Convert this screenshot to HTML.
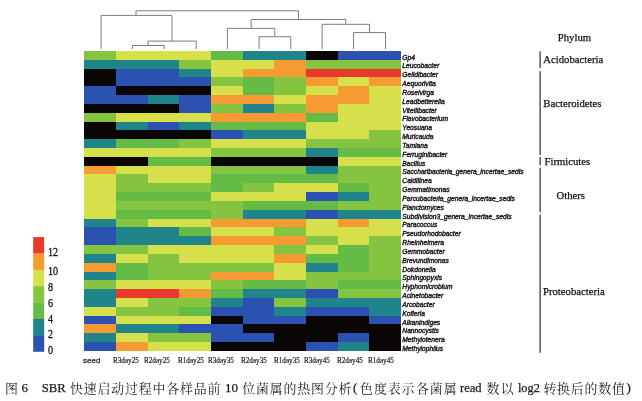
<!DOCTYPE html><html><head><meta charset="utf-8"><title>Heatmap</title><style>
html,body{margin:0;padding:0;background:#fff}body{width:642px;height:401px;position:relative;overflow:hidden;font-family:"Liberation Sans",sans-serif}
.g{position:absolute;left:402.3px;font:italic 6.7px/8.79px "Liberation Sans",sans-serif;color:#1a1a1a;white-space:nowrap;-webkit-text-stroke:0.4px #1a1a1a}
.p{position:absolute;font:10.7px/12px "Liberation Serif",serif;color:#111;white-space:nowrap;-webkit-text-stroke:0.25px #111}
.x{position:absolute;font:8.3px/9px "Liberation Serif",serif;color:#1a1a1a;white-space:nowrap;top:356.3px;transform:scaleX(0.86);transform-origin:0 0;-webkit-text-stroke:0.2px #1a1a1a}
.l{position:absolute;left:47.6px;font:12px/12px "Liberation Serif",serif;color:#111;-webkit-text-stroke:0.3px #111;transform:scaleX(0.84);transform-origin:0 0}
</style></head><body>
<svg width="642" height="401" viewBox="0 0 642 401" style="position:absolute;left:0;top:0">
<rect width="642" height="401" fill="#fff"/>
<g shape-rendering="crispEdges">
<rect x="84.4" y="51" width="31.94" height="9.12" fill="#84c441"/>
<rect x="116.04" y="51" width="95.22" height="9.12" fill="#d6e04a"/>
<rect x="210.96" y="51" width="31.94" height="9.12" fill="#64bb46"/>
<rect x="242.6" y="51" width="63.58" height="9.12" fill="#1f858a"/>
<rect x="305.88" y="51" width="31.94" height="9.12" fill="#0a0606"/>
<rect x="337.52" y="51" width="63.58" height="9.12" fill="#2b51b1"/>
<rect x="84.4" y="59.82" width="95.22" height="9.12" fill="#1f858a"/>
<rect x="179.32" y="59.82" width="31.94" height="9.12" fill="#84c441"/>
<rect x="210.96" y="59.82" width="63.58" height="9.12" fill="#d6e04a"/>
<rect x="274.24" y="59.82" width="31.94" height="9.12" fill="#f59b31"/>
<rect x="305.88" y="59.82" width="95.22" height="9.12" fill="#84c441"/>
<rect x="84.4" y="68.64" width="31.94" height="9.12" fill="#0a0606"/>
<rect x="116.04" y="68.64" width="63.58" height="9.12" fill="#2b51b1"/>
<rect x="179.32" y="68.64" width="31.94" height="9.12" fill="#1f858a"/>
<rect x="210.96" y="68.64" width="31.94" height="9.12" fill="#d6e04a"/>
<rect x="242.6" y="68.64" width="63.58" height="9.12" fill="#f59b31"/>
<rect x="305.88" y="68.64" width="95.22" height="9.12" fill="#e8392b"/>
<rect x="84.4" y="77.46" width="31.94" height="9.12" fill="#0a0606"/>
<rect x="116.04" y="77.46" width="95.22" height="9.12" fill="#2b51b1"/>
<rect x="210.96" y="77.46" width="31.94" height="9.12" fill="#84c441"/>
<rect x="242.6" y="77.46" width="31.94" height="9.12" fill="#64bb46"/>
<rect x="274.24" y="77.46" width="31.94" height="9.12" fill="#84c441"/>
<rect x="305.88" y="77.46" width="31.94" height="9.12" fill="#f59b31"/>
<rect x="337.52" y="77.46" width="31.94" height="9.12" fill="#d6e04a"/>
<rect x="369.16" y="77.46" width="31.94" height="9.12" fill="#f59b31"/>
<rect x="84.4" y="86.28" width="31.94" height="9.12" fill="#2b51b1"/>
<rect x="116.04" y="86.28" width="95.22" height="9.12" fill="#0a0606"/>
<rect x="210.96" y="86.28" width="31.94" height="9.12" fill="#d6e04a"/>
<rect x="242.6" y="86.28" width="31.94" height="9.12" fill="#64bb46"/>
<rect x="274.24" y="86.28" width="31.94" height="9.12" fill="#84c441"/>
<rect x="305.88" y="86.28" width="31.94" height="9.12" fill="#d6e04a"/>
<rect x="337.52" y="86.28" width="31.94" height="9.12" fill="#f59b31"/>
<rect x="369.16" y="86.28" width="31.94" height="9.12" fill="#d6e04a"/>
<rect x="84.4" y="95.1" width="63.58" height="9.12" fill="#2b51b1"/>
<rect x="147.68" y="95.1" width="31.94" height="9.12" fill="#1f858a"/>
<rect x="179.32" y="95.1" width="31.94" height="9.12" fill="#2b51b1"/>
<rect x="210.96" y="95.1" width="63.58" height="9.12" fill="#f59b31"/>
<rect x="274.24" y="95.1" width="31.94" height="9.12" fill="#d6e04a"/>
<rect x="305.88" y="95.1" width="63.58" height="9.12" fill="#f59b31"/>
<rect x="369.16" y="95.1" width="31.94" height="9.12" fill="#d6e04a"/>
<rect x="84.4" y="103.92" width="95.22" height="9.12" fill="#0a0606"/>
<rect x="179.32" y="103.92" width="31.94" height="9.12" fill="#2b51b1"/>
<rect x="210.96" y="103.92" width="31.94" height="9.12" fill="#84c441"/>
<rect x="242.6" y="103.92" width="31.94" height="9.12" fill="#1f858a"/>
<rect x="274.24" y="103.92" width="31.94" height="9.12" fill="#84c441"/>
<rect x="305.88" y="103.92" width="31.94" height="9.12" fill="#f59b31"/>
<rect x="337.52" y="103.92" width="63.58" height="9.12" fill="#d6e04a"/>
<rect x="84.4" y="112.74" width="31.94" height="9.12" fill="#84c441"/>
<rect x="116.04" y="112.74" width="95.22" height="9.12" fill="#d6e04a"/>
<rect x="210.96" y="112.74" width="95.22" height="9.12" fill="#f59b31"/>
<rect x="305.88" y="112.74" width="31.94" height="9.12" fill="#64bb46"/>
<rect x="337.52" y="112.74" width="63.58" height="9.12" fill="#d6e04a"/>
<rect x="84.4" y="121.56" width="31.94" height="9.12" fill="#0a0606"/>
<rect x="116.04" y="121.56" width="31.94" height="9.12" fill="#1f858a"/>
<rect x="147.68" y="121.56" width="31.94" height="9.12" fill="#2b51b1"/>
<rect x="179.32" y="121.56" width="31.94" height="9.12" fill="#1f858a"/>
<rect x="210.96" y="121.56" width="95.22" height="9.12" fill="#64bb46"/>
<rect x="305.88" y="121.56" width="95.22" height="9.12" fill="#d6e04a"/>
<rect x="84.4" y="130.38" width="126.86" height="9.12" fill="#0a0606"/>
<rect x="210.96" y="130.38" width="31.94" height="9.12" fill="#2b51b1"/>
<rect x="242.6" y="130.38" width="63.58" height="9.12" fill="#1f858a"/>
<rect x="305.88" y="130.38" width="63.58" height="9.12" fill="#d6e04a"/>
<rect x="369.16" y="130.38" width="31.94" height="9.12" fill="#84c441"/>
<rect x="84.4" y="139.2" width="31.94" height="9.12" fill="#1f858a"/>
<rect x="116.04" y="139.2" width="63.58" height="9.12" fill="#64bb46"/>
<rect x="179.32" y="139.2" width="31.94" height="9.12" fill="#84c441"/>
<rect x="210.96" y="139.2" width="95.22" height="9.12" fill="#d6e04a"/>
<rect x="305.88" y="139.2" width="95.22" height="9.12" fill="#84c441"/>
<rect x="84.4" y="148.02" width="126.86" height="9.12" fill="#d6e04a"/>
<rect x="210.96" y="148.02" width="95.22" height="9.12" fill="#84c441"/>
<rect x="305.88" y="148.02" width="31.94" height="9.12" fill="#1f858a"/>
<rect x="337.52" y="148.02" width="63.58" height="9.12" fill="#64bb46"/>
<rect x="84.4" y="156.84" width="63.58" height="9.12" fill="#0a0606"/>
<rect x="147.68" y="156.84" width="63.58" height="9.12" fill="#64bb46"/>
<rect x="210.96" y="156.84" width="126.86" height="9.12" fill="#0a0606"/>
<rect x="337.52" y="156.84" width="63.58" height="9.12" fill="#d6e04a"/>
<rect x="84.4" y="165.66" width="31.94" height="9.12" fill="#f59b31"/>
<rect x="116.04" y="165.66" width="95.22" height="9.12" fill="#d6e04a"/>
<rect x="210.96" y="165.66" width="95.22" height="9.12" fill="#84c441"/>
<rect x="305.88" y="165.66" width="31.94" height="9.12" fill="#1f858a"/>
<rect x="337.52" y="165.66" width="63.58" height="9.12" fill="#84c441"/>
<rect x="84.4" y="174.48" width="31.94" height="9.12" fill="#d6e04a"/>
<rect x="116.04" y="174.48" width="31.94" height="9.12" fill="#84c441"/>
<rect x="147.68" y="174.48" width="63.58" height="9.12" fill="#d6e04a"/>
<rect x="210.96" y="174.48" width="126.86" height="9.12" fill="#64bb46"/>
<rect x="337.52" y="174.48" width="63.58" height="9.12" fill="#84c441"/>
<rect x="84.4" y="183.3" width="31.94" height="9.12" fill="#d6e04a"/>
<rect x="116.04" y="183.3" width="95.22" height="9.12" fill="#84c441"/>
<rect x="210.96" y="183.3" width="31.94" height="9.12" fill="#64bb46"/>
<rect x="242.6" y="183.3" width="31.94" height="9.12" fill="#84c441"/>
<rect x="274.24" y="183.3" width="63.58" height="9.12" fill="#d6e04a"/>
<rect x="337.52" y="183.3" width="31.94" height="9.12" fill="#64bb46"/>
<rect x="369.16" y="183.3" width="31.94" height="9.12" fill="#84c441"/>
<rect x="84.4" y="192.12" width="31.94" height="9.12" fill="#d6e04a"/>
<rect x="116.04" y="192.12" width="95.22" height="9.12" fill="#64bb46"/>
<rect x="210.96" y="192.12" width="95.22" height="9.12" fill="#d6e04a"/>
<rect x="305.88" y="192.12" width="31.94" height="9.12" fill="#2b51b1"/>
<rect x="337.52" y="192.12" width="31.94" height="9.12" fill="#1f858a"/>
<rect x="369.16" y="192.12" width="31.94" height="9.12" fill="#84c441"/>
<rect x="84.4" y="200.94" width="31.94" height="9.12" fill="#d6e04a"/>
<rect x="116.04" y="200.94" width="126.86" height="9.12" fill="#84c441"/>
<rect x="242.6" y="200.94" width="95.22" height="9.12" fill="#64bb46"/>
<rect x="337.52" y="200.94" width="63.58" height="9.12" fill="#84c441"/>
<rect x="84.4" y="209.76" width="31.94" height="9.12" fill="#d6e04a"/>
<rect x="116.04" y="209.76" width="95.22" height="9.12" fill="#64bb46"/>
<rect x="210.96" y="209.76" width="31.94" height="9.12" fill="#84c441"/>
<rect x="242.6" y="209.76" width="63.58" height="9.12" fill="#1f858a"/>
<rect x="305.88" y="209.76" width="31.94" height="9.12" fill="#2b51b1"/>
<rect x="337.52" y="209.76" width="63.58" height="9.12" fill="#1f858a"/>
<rect x="84.4" y="218.58" width="31.94" height="9.12" fill="#1f858a"/>
<rect x="116.04" y="218.58" width="31.94" height="9.12" fill="#84c441"/>
<rect x="147.68" y="218.58" width="63.58" height="9.12" fill="#d6e04a"/>
<rect x="210.96" y="218.58" width="95.22" height="9.12" fill="#f59b31"/>
<rect x="305.88" y="218.58" width="31.94" height="9.12" fill="#d6e04a"/>
<rect x="337.52" y="218.58" width="31.94" height="9.12" fill="#f59b31"/>
<rect x="369.16" y="218.58" width="31.94" height="9.12" fill="#d6e04a"/>
<rect x="84.4" y="227.4" width="31.94" height="9.12" fill="#2b51b1"/>
<rect x="116.04" y="227.4" width="63.58" height="9.12" fill="#1f858a"/>
<rect x="179.32" y="227.4" width="31.94" height="9.12" fill="#64bb46"/>
<rect x="210.96" y="227.4" width="63.58" height="9.12" fill="#d6e04a"/>
<rect x="274.24" y="227.4" width="31.94" height="9.12" fill="#84c441"/>
<rect x="305.88" y="227.4" width="95.22" height="9.12" fill="#d6e04a"/>
<rect x="84.4" y="236.22" width="31.94" height="9.12" fill="#2b51b1"/>
<rect x="116.04" y="236.22" width="95.22" height="9.12" fill="#1f858a"/>
<rect x="210.96" y="236.22" width="95.22" height="9.12" fill="#f59b31"/>
<rect x="305.88" y="236.22" width="31.94" height="9.12" fill="#84c441"/>
<rect x="337.52" y="236.22" width="31.94" height="9.12" fill="#d6e04a"/>
<rect x="369.16" y="236.22" width="31.94" height="9.12" fill="#84c441"/>
<rect x="84.4" y="245.04" width="63.58" height="9.12" fill="#84c441"/>
<rect x="147.68" y="245.04" width="126.86" height="9.12" fill="#d6e04a"/>
<rect x="274.24" y="245.04" width="31.94" height="9.12" fill="#84c441"/>
<rect x="305.88" y="245.04" width="31.94" height="9.12" fill="#d6e04a"/>
<rect x="337.52" y="245.04" width="31.94" height="9.12" fill="#64bb46"/>
<rect x="369.16" y="245.04" width="31.94" height="9.12" fill="#84c441"/>
<rect x="84.4" y="253.86" width="31.94" height="9.12" fill="#1f858a"/>
<rect x="116.04" y="253.86" width="31.94" height="9.12" fill="#d6e04a"/>
<rect x="147.68" y="253.86" width="31.94" height="9.12" fill="#84c441"/>
<rect x="179.32" y="253.86" width="95.22" height="9.12" fill="#d6e04a"/>
<rect x="274.24" y="253.86" width="31.94" height="9.12" fill="#f59b31"/>
<rect x="305.88" y="253.86" width="63.58" height="9.12" fill="#64bb46"/>
<rect x="369.16" y="253.86" width="31.94" height="9.12" fill="#84c441"/>
<rect x="84.4" y="262.68" width="31.94" height="9.12" fill="#f59b31"/>
<rect x="116.04" y="262.68" width="31.94" height="9.12" fill="#64bb46"/>
<rect x="147.68" y="262.68" width="126.86" height="9.12" fill="#84c441"/>
<rect x="274.24" y="262.68" width="31.94" height="9.12" fill="#d6e04a"/>
<rect x="305.88" y="262.68" width="31.94" height="9.12" fill="#1f858a"/>
<rect x="337.52" y="262.68" width="31.94" height="9.12" fill="#64bb46"/>
<rect x="369.16" y="262.68" width="31.94" height="9.12" fill="#84c441"/>
<rect x="84.4" y="271.5" width="31.94" height="9.12" fill="#1f858a"/>
<rect x="116.04" y="271.5" width="31.94" height="9.12" fill="#64bb46"/>
<rect x="147.68" y="271.5" width="63.58" height="9.12" fill="#84c441"/>
<rect x="210.96" y="271.5" width="63.58" height="9.12" fill="#f59b31"/>
<rect x="274.24" y="271.5" width="31.94" height="9.12" fill="#d6e04a"/>
<rect x="305.88" y="271.5" width="95.22" height="9.12" fill="#84c441"/>
<rect x="84.4" y="280.32" width="31.94" height="9.12" fill="#84c441"/>
<rect x="116.04" y="280.32" width="95.22" height="9.12" fill="#d6e04a"/>
<rect x="210.96" y="280.32" width="31.94" height="9.12" fill="#84c441"/>
<rect x="242.6" y="280.32" width="63.58" height="9.12" fill="#64bb46"/>
<rect x="305.88" y="280.32" width="31.94" height="9.12" fill="#84c441"/>
<rect x="337.52" y="280.32" width="63.58" height="9.12" fill="#64bb46"/>
<rect x="84.4" y="289.14" width="31.94" height="9.12" fill="#1f858a"/>
<rect x="116.04" y="289.14" width="63.58" height="9.12" fill="#e8392b"/>
<rect x="179.32" y="289.14" width="31.94" height="9.12" fill="#f59b31"/>
<rect x="210.96" y="289.14" width="31.94" height="9.12" fill="#64bb46"/>
<rect x="242.6" y="289.14" width="63.58" height="9.12" fill="#1f858a"/>
<rect x="305.88" y="289.14" width="31.94" height="9.12" fill="#2b51b1"/>
<rect x="337.52" y="289.14" width="63.58" height="9.12" fill="#84c441"/>
<rect x="84.4" y="297.96" width="31.94" height="9.12" fill="#1f858a"/>
<rect x="116.04" y="297.96" width="31.94" height="9.12" fill="#d6e04a"/>
<rect x="147.68" y="297.96" width="63.58" height="9.12" fill="#84c441"/>
<rect x="210.96" y="297.96" width="31.94" height="9.12" fill="#1f858a"/>
<rect x="242.6" y="297.96" width="31.94" height="9.12" fill="#2b51b1"/>
<rect x="274.24" y="297.96" width="31.94" height="9.12" fill="#84c441"/>
<rect x="305.88" y="297.96" width="95.22" height="9.12" fill="#1f858a"/>
<rect x="84.4" y="306.78" width="31.94" height="9.12" fill="#d6e04a"/>
<rect x="116.04" y="306.78" width="63.58" height="9.12" fill="#84c441"/>
<rect x="179.32" y="306.78" width="31.94" height="9.12" fill="#64bb46"/>
<rect x="210.96" y="306.78" width="63.58" height="9.12" fill="#2b51b1"/>
<rect x="274.24" y="306.78" width="31.94" height="9.12" fill="#1f858a"/>
<rect x="305.88" y="306.78" width="63.58" height="9.12" fill="#2b51b1"/>
<rect x="369.16" y="306.78" width="31.94" height="9.12" fill="#1f858a"/>
<rect x="84.4" y="315.6" width="31.94" height="9.12" fill="#2b51b1"/>
<rect x="116.04" y="315.6" width="95.22" height="9.12" fill="#d6e04a"/>
<rect x="210.96" y="315.6" width="31.94" height="9.12" fill="#0a0606"/>
<rect x="242.6" y="315.6" width="63.58" height="9.12" fill="#2b51b1"/>
<rect x="305.88" y="315.6" width="63.58" height="9.12" fill="#0a0606"/>
<rect x="369.16" y="315.6" width="31.94" height="9.12" fill="#2b51b1"/>
<rect x="84.4" y="324.42" width="31.94" height="9.12" fill="#f59b31"/>
<rect x="116.04" y="324.42" width="63.58" height="9.12" fill="#1f858a"/>
<rect x="179.32" y="324.42" width="63.58" height="9.12" fill="#2b51b1"/>
<rect x="242.6" y="324.42" width="158.5" height="9.12" fill="#0a0606"/>
<rect x="84.4" y="333.24" width="31.94" height="9.12" fill="#1f858a"/>
<rect x="116.04" y="333.24" width="31.94" height="9.12" fill="#d6e04a"/>
<rect x="147.68" y="333.24" width="63.58" height="9.12" fill="#84c441"/>
<rect x="210.96" y="333.24" width="63.58" height="9.12" fill="#2b51b1"/>
<rect x="274.24" y="333.24" width="63.58" height="9.12" fill="#0a0606"/>
<rect x="337.52" y="333.24" width="31.94" height="9.12" fill="#2b51b1"/>
<rect x="369.16" y="333.24" width="31.94" height="9.12" fill="#0a0606"/>
<rect x="84.4" y="342.06" width="31.94" height="9.12" fill="#2b51b1"/>
<rect x="116.04" y="342.06" width="31.94" height="9.12" fill="#f59b31"/>
<rect x="147.68" y="342.06" width="63.58" height="9.12" fill="#d6e04a"/>
<rect x="210.96" y="342.06" width="95.22" height="9.12" fill="#0a0606"/>
<rect x="305.88" y="342.06" width="31.94" height="9.12" fill="#2b51b1"/>
<rect x="337.52" y="342.06" width="31.94" height="9.12" fill="#1f858a"/>
<rect x="369.16" y="342.06" width="31.94" height="9.12" fill="#0a0606"/>
</g>
<path d="M101.1 49V15.4H172V41.1 M136 15.4V10.8H298.5V19.5 M148.1 41.1H196.2V49 M148.1 41.1V45.5 M132.4 49V45.5H164.3V49 M251.1 28.4V19.5H345.8V24.3 M227.4 49V28.4H274.8V36.7 M259.1 49V36.7H290.8V49 M322.1 49V24.3H369.5V32.6 M353.5 49V32.6H385.5V49" fill="none" stroke="#857979" stroke-width="1"/>
<rect x="539.4" y="51.3" width="1.5" height="16.7" fill="#5e5252"/>
<rect x="539.4" y="71.2" width="1.5" height="83.8" fill="#5e5252"/>
<rect x="539.4" y="157.2" width="1.5" height="8.1" fill="#5e5252"/>
<rect x="539.4" y="167.7" width="1.5" height="44.6" fill="#5e5252"/>
<rect x="539.4" y="214.7" width="1.5" height="138" fill="#5e5252"/>
<rect x="33.2" y="237.1" width="11" height="16.56" fill="#e8392b"/>
<rect x="33.2" y="253.46" width="11" height="16.56" fill="#f59b31"/>
<rect x="33.2" y="269.81" width="11" height="16.56" fill="#d6e04a"/>
<rect x="33.2" y="286.17" width="11" height="16.56" fill="#84c441"/>
<rect x="33.2" y="302.53" width="11" height="16.56" fill="#64bb46"/>
<rect x="33.2" y="318.89" width="11" height="16.56" fill="#1f858a"/>
<rect x="33.2" y="335.24" width="11" height="16.56" fill="#2b51b1"/>
</svg>
<div style="position:absolute;left:0;top:0;width:642px;height:401px;will-change:transform">
<div class="g" style="top:53.6px">Gp4</div>
<div class="g" style="top:62.44px">Leucobacter</div>
<div class="g" style="top:71.27px">Gelidibacter</div>
<div class="g" style="top:80.11px">Aequorivita</div>
<div class="g" style="top:88.94px">Roseivirga</div>
<div class="g" style="top:97.78px">Leadbetterella</div>
<div class="g" style="top:106.61px">Vitellibacter</div>
<div class="g" style="top:115.45px">Flavobacterium</div>
<div class="g" style="top:124.28px">Yeosuana</div>
<div class="g" style="top:133.12px">Muricauda</div>
<div class="g" style="top:141.95px">Tamlana</div>
<div class="g" style="top:150.78px">Ferruginibacter</div>
<div class="g" style="top:159.62px">Bacillus</div>
<div class="g" style="top:168.46px">Saccharibacteria_genera_incertae_sedis</div>
<div class="g" style="top:177.29px">Caldilinea</div>
<div class="g" style="top:186.12px">Gemmatimonas</div>
<div class="g" style="top:194.96px">Parcubacteria_genera_incertae_sedis</div>
<div class="g" style="top:203.8px">Planctomyces</div>
<div class="g" style="top:212.63px">Subdivision3_genera_incertae_sedis</div>
<div class="g" style="top:221.47px">Paracoccus</div>
<div class="g" style="top:230.3px">Pseudorhodobacter</div>
<div class="g" style="top:239.14px">Rheinheimera</div>
<div class="g" style="top:247.97px">Gemmobacter</div>
<div class="g" style="top:256.81px">Brevundimonas</div>
<div class="g" style="top:265.64px">Dokdonella</div>
<div class="g" style="top:274.48px">Sphingopyxis</div>
<div class="g" style="top:283.31px">Hyphomicrobium</div>
<div class="g" style="top:292.15px">Acinetobacter</div>
<div class="g" style="top:300.98px">Arcobacter</div>
<div class="g" style="top:309.82px">Kofleria</div>
<div class="g" style="top:318.65px">Alkanindiges</div>
<div class="g" style="top:327.49px">Nannocystis</div>
<div class="g" style="top:336.32px">Methylotenera</div>
<div class="g" style="top:345.16px">Methylophilus</div>
<div class="p" style="left:557.8px;top:31px">Phylum</div>
<div class="p" style="left:543.3px;top:53.3px">Acidobacteria</div>
<div class="p" style="left:543.3px;top:96.7px">Bacteroidetes</div>
<div class="p" style="left:544.5px;top:155.4px">Firmicutes</div>
<div class="p" style="left:556.5px;top:188.6px">Others</div>
<div class="p" style="left:543px;top:285px">Proteobacteria</div>
<div class="x" style="left:113.4px">R3day25</div>
<div class="x" style="left:144.4px">R2day25</div>
<div class="x" style="left:177.5px">R1day25</div>
<div class="x" style="left:208.2px">R3day35</div>
<div class="x" style="left:241.2px">R2day35</div>
<div class="x" style="left:274.4px">R1day35</div>
<div class="x" style="left:303.6px">R3day45</div>
<div class="x" style="left:336.7px">R2day45</div>
<div class="x" style="left:367.9px">R1day45</div>
<div style="position:absolute;left:83px;top:355.6px;font:8px/10px 'Liberation Sans',sans-serif;color:#222;-webkit-text-stroke:0.25px #222">seed</div>
<div class="l" style="top:246.3px">12</div>
<div class="l" style="top:264.8px">10</div>
<div class="l" style="top:281.1px">8</div>
<div class="l" style="top:296.6px">6</div>
<div class="l" style="top:312.8px">4</div>
<div class="l" style="top:328.2px">2</div>
<div class="l" style="top:343.8px">0</div>
<svg width="642" height="401" viewBox="0 0 642 401" style="position:absolute;left:0;top:0">
<g font-family="'Liberation Serif', 'Noto Serif CJK SC', serif" font-size="12.9" fill="#1c1c1c">
<text x="5" y="392.6">图</text>
<text y="392.6" x="69.9 83.67 97.44 111.21 124.98 138.75 152.52 166.29 180.06 193.83 207.6">快速启动过程中各样品前</text>
<text y="392.6" x="242.2 255.95 269.7 283.45 297.2 310.95 324.7 338.45">位菌属的热图分析</text>
<text y="392.6" x="360.1 374.05 387.7 401.6 416 429.85 443.7">色度表示各菌属</text>
<text y="392.6" x="486.4 500.7">数以</text>
<text y="392.6" x="543.4 557.12 570.84 584.56 598.28 612">转换后的数值</text>
</g>
<g font-family="Liberation Serif, serif" fill="#1c1c1c" stroke="#1c1c1c" stroke-width="0.25">
<text x="21.6" y="392.2" font-size="12.9">6</text>
<text x="41.8" y="392.2" font-size="12.7">SBR</text>
<text x="225" y="392.2" font-size="13">10</text>
<text x="353" y="392.2" font-size="13">(</text>
<text x="460" y="392.2" font-size="12.6">read</text>
<text x="517.9" y="392.2" font-size="12.4">log2</text>
<text x="626.6" y="392.2" font-size="13">)</text>
</g></svg>
</div>
</body></html>
